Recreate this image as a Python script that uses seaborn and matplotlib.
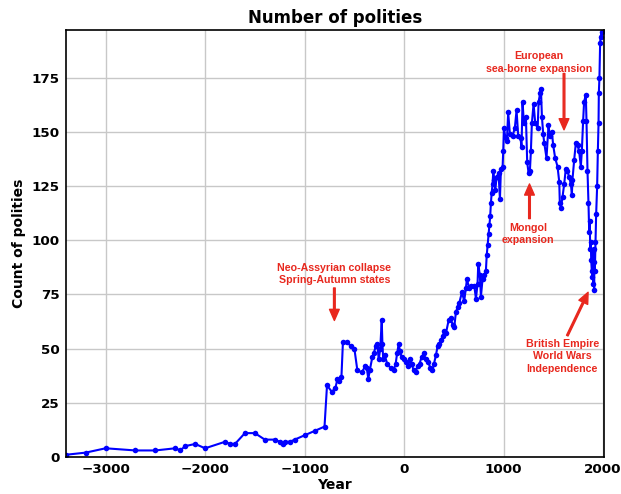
import pandas as pd
import matplotlib
matplotlib.use("Agg")
import matplotlib.pyplot as plt
import seaborn as sns

years = [-3400, -3200, -3000, -2700, -2500, -2300, -2250, -2200, -2100, -2000,
         -1800, -1750, -1700, -1600, -1500, -1400, -1300, -1250, -1220, -1200,
         -1150, -1100, -1000, -900, -800, -775, -725, -690, -670, -650,
         -630, -615, -570, -535, -500, -470, -425, -390, -375, -360,
         -345, -320, -305, -285, -270, -255, -240, -225, -218, -210,
         -195, -170, -135, -105, -85, -70, -55, -42, -25, 0,
         20, 40, 60, 75, 95, 115, 135, 155, 175, 200,
         215, 240, 265, 285, 300, 320, 336, 355, 370, 390,
         404, 420, 447, 470, 487, 504, 521, 537, 554, 581,
         604, 621, 631, 655, 671, 705, 722, 738, 745, 761,
         772, 788, 805, 822, 830, 840, 850, 858, 865, 872,
         880, 889, 896, 906, 916, 929, 949, 963, 973, 990,
         996, 1003, 1019, 1033, 1046, 1063, 1090, 1113, 1130, 1147,
         1170, 1180, 1190, 1204, 1224, 1237, 1251, 1264, 1274, 1284,
         1301, 1318, 1342, 1352, 1367, 1375, 1385, 1398, 1408, 1431,
         1451, 1465, 1485, 1498, 1518, 1542, 1559, 1565, 1575, 1592,
         1609, 1625, 1642, 1659, 1676, 1686, 1692, 1709, 1726, 1743,
         1759, 1776, 1786, 1799, 1809, 1826, 1833, 1843, 1853, 1860,
         1866, 1870, 1877, 1880, 1886, 1893, 1897, 1900, 1905, 1910,
         1913, 1917, 1923, 1930, 1940, 1947, 1954, 1957, 1963, 1970,
         1975, 1985]
counts = [1, 2, 4, 3, 3, 4, 3, 5, 6, 4,
          7, 6, 6, 11, 11, 8, 8, 7, 6, 7,
          7, 8, 10, 12, 14, 33, 30, 32, 36, 35,
          37, 53, 53, 51, 50, 40, 39, 42, 41, 36,
          40, 46, 48, 51, 52, 45, 50, 63, 52, 45,
          47, 43, 41, 40, 43, 48, 52, 49, 46, 45,
          44, 42, 45, 43, 40, 39, 42, 43, 46, 48,
          45, 44, 41, 40, 43, 47, 51, 52, 54, 56,
          58, 57, 63, 64, 61, 60, 67, 69, 71, 76,
          72, 78, 82, 78, 79, 79, 73, 80, 89, 84,
          74, 82, 84, 86, 93, 98, 103, 107, 111, 117,
          122, 126, 132, 128, 123, 129, 131, 119, 133, 134,
          141, 152, 147, 146, 159, 149, 148, 152, 160, 148,
          147, 143, 164, 154, 157, 136, 131, 132, 141, 154,
          163, 154, 152, 164, 168, 170, 157, 149, 145, 138,
          153, 148, 150, 144, 138, 134, 127, 117, 115, 120,
          126, 133, 132, 129, 126, 121, 128, 137, 145, 144,
          141, 134, 141, 155, 164, 167, 155, 132, 117, 104,
          109, 96, 99, 91, 86, 83, 95, 80, 90, 77,
          96, 86, 99, 112, 125, 141, 154, 168, 175, 191,
          194, 196]

df = pd.DataFrame({"Year": years, "Count of polities": counts})

sns.set_style("whitegrid", {"text.color": "black", "axes.labelcolor": "black",
                            "xtick.color": "black", "ytick.color": "black"})
plt.rcParams["font.family"] = ["DejaVu Sans"]

fig, ax = plt.subplots(figsize=(6.21, 4.94), dpi=100)
fig.subplots_adjust(left=0.106, right=0.972, bottom=0.075, top=0.939)

sns.lineplot(data=df, x="Year", y="Count of polities", color="blue",
             marker="o", markersize=4, markeredgewidth=0, linewidth=1.5,
             sort=False, ax=ax)

ax.set_xlim(-3400, 2005)
ax.set_ylim(0, 197)
ax.set_xticks([-3000, -2000, -1000, 0, 1000, 2000])
ax.set_yticks([0, 25, 50, 75, 100, 125, 150, 175])
ax.grid(color="#c8c8c8", linewidth=1)
for s in ax.spines.values():
    s.set_color("black")
    s.set_linewidth(1.2)
ax.tick_params(axis="both", length=3, width=1, color="black", labelcolor="black",
               labelsize=9.7, pad=1.5)
for lab in ax.get_xticklabels() + ax.get_yticklabels():
    lab.set_fontweight("bold")

ax.set_title("Number of polities", fontsize=12, fontweight="bold", pad=5, color="black")
ax.set_xlabel("Year", fontsize=10, fontweight="bold", labelpad=1, color="black")
ax.set_ylabel("Count of polities", fontsize=10, fontweight="bold", labelpad=4, color="black")

red = "#e8281e"
afont = dict(color=red, fontsize=7.7, fontweight="bold", ha="center", va="center",
             family=["Liberation Sans", "DejaVu Sans"], linespacing=1.3)
arrow = dict(facecolor=red, edgecolor=red, width=1.2, headwidth=7, headlength=8)

ax.text(-701, 84.5, "Neo-Assyrian collapse\nSpring-Autumn states", **afont)
ax.annotate("", xy=(-701, 63), xytext=(-701, 78), arrowprops=arrow)

ax.text(1247, 103, "Mongol\nexpansion", **afont)
ax.annotate("", xy=(1260, 126), xytext=(1260, 110), arrowprops=arrow)

ax.text(1357, 182, "European\nsea-borne expansion", **afont)
ax.annotate("", xy=(1607, 151), xytext=(1607, 177), arrowprops=arrow)

ax.text(1590, 46.5, "British Empire\nWorld Wars\nIndependence", **afont)
ax.annotate("", xy=(1849, 76), xytext=(1640, 56), arrowprops=arrow)

plt.savefig("out.png", dpi=100)
